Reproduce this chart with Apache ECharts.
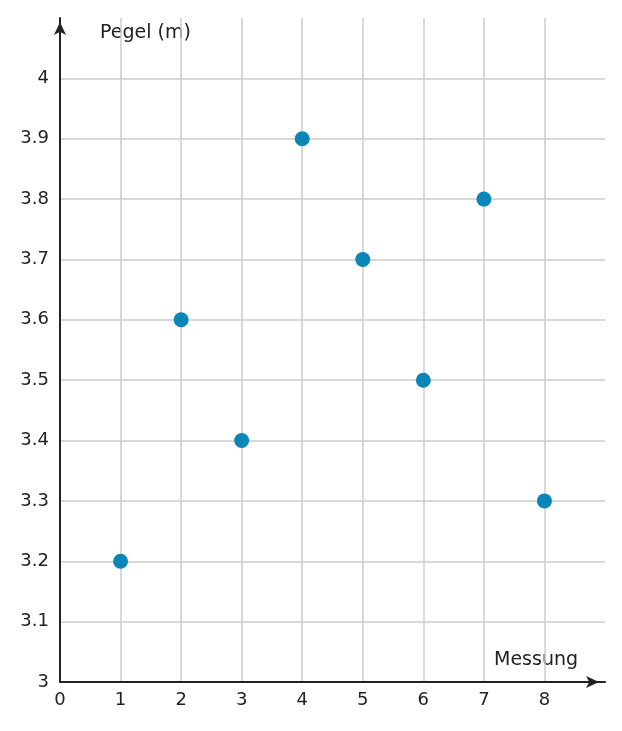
<!DOCTYPE html>
<html><head><meta charset="utf-8">
<script src="https://cdn.jsdelivr.net/npm/echarts@6/dist/echarts.min.js"></script>
<style>html,body{margin:0;padding:0;background:#fff}#c{width:622px;height:731px}</style>
</head><body><div id="c"></div>
<script>
var messung = [1,2,3,4,5,6,7,8];
var pegel = [3.2,3.6,3.4,3.9,3.7,3.5,3.8,3.3];
var xTitle = 'Messung', yTitle = 'Pegel (m)';
var chart = echarts.init(document.getElementById('c'));
var font = 'DejaVu Sans';
chart.setOption({
  animation:false,
  grid:{left:60,right:17,top:18,bottom:49},
  xAxis:{type:'value',min:0,max:9,interval:1,
    axisLine:{show:true,lineStyle:{color:'#222',width:2},symbol:['none','arrow'],symbolSize:[9,13],symbolOffset:[0,-6]},
    axisTick:{show:false},
    axisLabel:{color:'#222',fontFamily:font,fontSize:18,margin:9,formatter:function(v){return v==9?'':v;}},
    splitLine:{show:true,showMaxLine:false,lineStyle:{color:'#cccccc',width:1.5}}},
  yAxis:{type:'value',min:3,max:4.1,interval:0.1,
    axisLine:{show:true,lineStyle:{color:'#222',width:2},symbol:['none','arrow'],symbolSize:[9,13],symbolOffset:[0,-4]},
    axisTick:{show:false},
    axisLabel:{color:'#222',fontFamily:font,fontSize:18,margin:11,formatter:function(v){v=Math.round(v*10)/10;return v>=4.05?'':String(v);}},
    splitLine:{show:true,showMaxLine:false,lineStyle:{color:'#cccccc',width:1.5}}},
  graphic:[
    {type:'text',left:100,top:24,style:{text:yTitle,font:'19px DejaVu Sans',fill:'#222'}},
    {type:'text',left:494,top:651,style:{text:xTitle,font:'19px DejaVu Sans',fill:'#222'}}
  ],
  series:[{type:'scatter',symbolSize:15,itemStyle:{color:'#0a87b8',opacity:1},
    data:messung.map(function(m,i){return [m,pegel[i]];})}]
});
</script></body></html>
